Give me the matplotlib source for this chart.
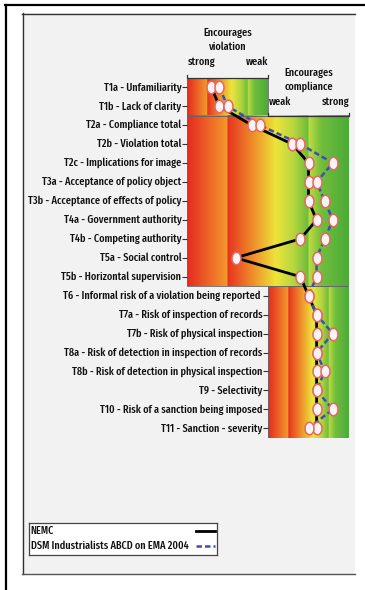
import numpy as np
import matplotlib
matplotlib.use('Agg')
import matplotlib.pyplot as plt
from matplotlib.patches import Rectangle
from matplotlib.lines import Line2D

plt.rcParams['font.family'] = ['Fira Sans Extra Condensed', 'DejaVu Sans']
plt.rcParams['font.weight'] = 'medium'

W, H = 365, 590

factors = [
    'T1a - Unfamiliarity',
    'T1b - Lack of clarity',
    'T2a - Compliance total',
    'T2b - Violation total',
    'T2c - Implications for image',
    'T3a - Acceptance of policy object',
    'T3b - Acceptance of effects of policy',
    'T4a - Government authority',
    'T4b - Competing authority',
    'T5a - Social control',
    'T5b - Horizontal supervision',
    'T6 - Informal risk of a violation being reported ',
    'T7a - Risk of inspection of records',
    'T7b - Risk of physical inspection',
    'T8a - Risk of detection in inspection of records',
    'T8b - Risk of detection in physical inspection',
    'T9 - Selectivity',
    'T10 - Risk of a sanction being imposed',
    'T11 - Sanction - severity',
]
# score: -10 = strong violation, 0 = neutral, +10 = strong compliance
nemc = [-7, -6, -2, 3, 5, 5, 5, 6, 4, -4, 4, 5, 6, 6, 6, 6, 6, 6, 6]
dsm = [-6, -5, -1, 4, 8, 6, 7, 8, 7, 6, 6, 5, 6, 8, 6, 7, 6, 8, 5]
series_names = ['NEMC', 'DSM Industrialists ABCD on EMA 2004']

# which rows sit on which scale block, and the score span of the block
panel_rows = [(0, 1), (2, 10), (11, 18)]
panel_span = [(-10, 0), (-10, 10), (0, 10)]

GRAD_POS = [0.0, 0.2499, 0.25, 0.40, 0.55, 0.66, 0.7499, 0.75, 0.83, 1.0]
GRAD_COL = ['#e5291f', '#f39a2c', '#e6321f', '#f08a2a', '#ece53a',
            '#b6d63e', '#6cbc3a', '#c2dc44', '#72be3c', '#4aab38']

LINE_BLUE = '#3d4fb0'
DASHES = (0, (2.2, 1.2))


def fx(x):
    return x / W


def fy(y):
    return 1 - y / H


def gradient(n=400):
    t = np.linspace(0, 1, n)
    rgb = np.array([matplotlib.colors.to_rgb(c) for c in GRAD_COL])
    img = np.stack([np.interp(t, GRAD_POS, rgb[:, k]) for k in range(3)], axis=-1)
    return img[np.newaxis, :, :]


fig = plt.figure(figsize=(W / 100, H / 100), dpi=100)

# frames
fig.patches.append(Rectangle((fx(22), fy(574)), fx(355 - 22), (574 - 13) / H,
                             transform=fig.transFigure, facecolor='#f2f2f2',
                             edgecolor='none', zorder=-10))
for xs, ys, lw, c in [((5, 364), (5, 5), 1.6, 'black'),
                      ((6, 6), (5, 590), 1.6, 'black'),
                      ((22, 355), (13.5, 13.5), 1.0, '#333333'),
                      ((22.5, 22.5), (13, 574), 1.0, '#333333'),
                      ((22, 355), (574, 574), 1.0, '#555555')]:
    fig.add_artist(Line2D([fx(xs[0]), fx(xs[1])], [fy(ys[0]), fy(ys[1])],
                          transform=fig.transFigure, color=c, lw=lw, zorder=-5))

top, bot = 77.8, 437.8
ax = fig.add_axes([fx(187), fy(bot), fx(349 - 187), (bot - top) / H])
ax.axis('off')

img = gradient()
for (r0, r1), (x0, x1) in zip(panel_rows, panel_span):
    ax.imshow(img, extent=(x0, x1, r1 + 0.5, r0 - 0.5), aspect='auto',
              interpolation='bilinear', zorder=1)
    ax.add_patch(Rectangle((x0, r0 - 0.5), x1 - x0, r1 - r0 + 1, fill=False,
                           edgecolor='#666666', lw=0.6, zorder=2))
    for r in range(r0, r1 + 1):
        ax.plot([x0], [r], marker=[(-1, 0), (0, 0)], markersize=7,
                color='#333333', mew=0.8, clip_on=False)
        ax.annotate(factors[r], xy=(x0, r), xytext=(-4, 0),
                    textcoords='offset points', ha='right', va='center',
                    fontsize=8, color='#111111', annotation_clip=False)
ax.set_xlim(-10, 10)
ax.set_ylim(18.5, -0.5)

# scale brackets
for (x0, x1), r in [((-10, 0), -0.5), ((0, 10), 1.5)]:
    ax.plot([x0, x0, x1, x1], [r - 0.15, r, r, r - 0.15], color='#333333',
            lw=0.9, clip_on=False, zorder=3)

rows = np.arange(len(factors))
ax.plot(nemc, rows, color='black', lw=2.0, zorder=4, clip_on=False)
ax.plot(dsm, rows, color=LINE_BLUE, lw=1.8, ls=DASHES, zorder=5, clip_on=False)
th = np.linspace(0, 2 * np.pi, 40)
ellipse = np.column_stack([0.72 * np.cos(th), np.sin(th)])
for vals in (nemc, dsm):
    ax.plot(vals, rows, ls='none', marker=ellipse, markersize=9,
            markerfacecolor='#fff2f6', markeredgecolor='#e4685e',
            markeredgewidth=1.1, zorder=6, clip_on=False)

hdr = dict(fontsize=8, color='#111111', va='center')
fig.text(fx(228), fy(33), 'Encourages', ha='center', **hdr)
fig.text(fx(228), fy(46.5), 'violation', ha='center', **hdr)
fig.text(fx(188), fy(62), 'strong', ha='left', **hdr)
fig.text(fx(268), fy(62), 'weak', ha='right', **hdr)
fig.text(fx(309), fy(73), 'Encourages', ha='center', **hdr)
fig.text(fx(309), fy(87), 'compliance', ha='center', **hdr)
fig.text(fx(269), fy(101.5), 'weak', ha='left', **hdr)
fig.text(fx(349), fy(101.5), 'strong', ha='right', **hdr)

# legend box
lax = fig.add_axes([fx(29), fy(555), fx(217 - 29), (555 - 523) / H])
lax.set_xlim(29, 217)
lax.set_ylim(555, 523)
lax.set_xticks([])
lax.set_yticks([])
lax.set_facecolor('white')
for s in lax.spines.values():
    s.set_color('#444444')
    s.set_linewidth(0.9)
lax.text(30.5, 531, series_names[0], fontsize=8, va='center', ha='left',
         color='#111111')
lax.text(30.5, 546, series_names[1], fontsize=8, va='center', ha='left',
         color='#111111')
lax.plot([196, 215], [531, 531], color='black', lw=2.0)
lax.plot([196, 215], [546, 546], color=LINE_BLUE, lw=1.8, ls=DASHES)

fig.savefig('out.png', dpi=100)
